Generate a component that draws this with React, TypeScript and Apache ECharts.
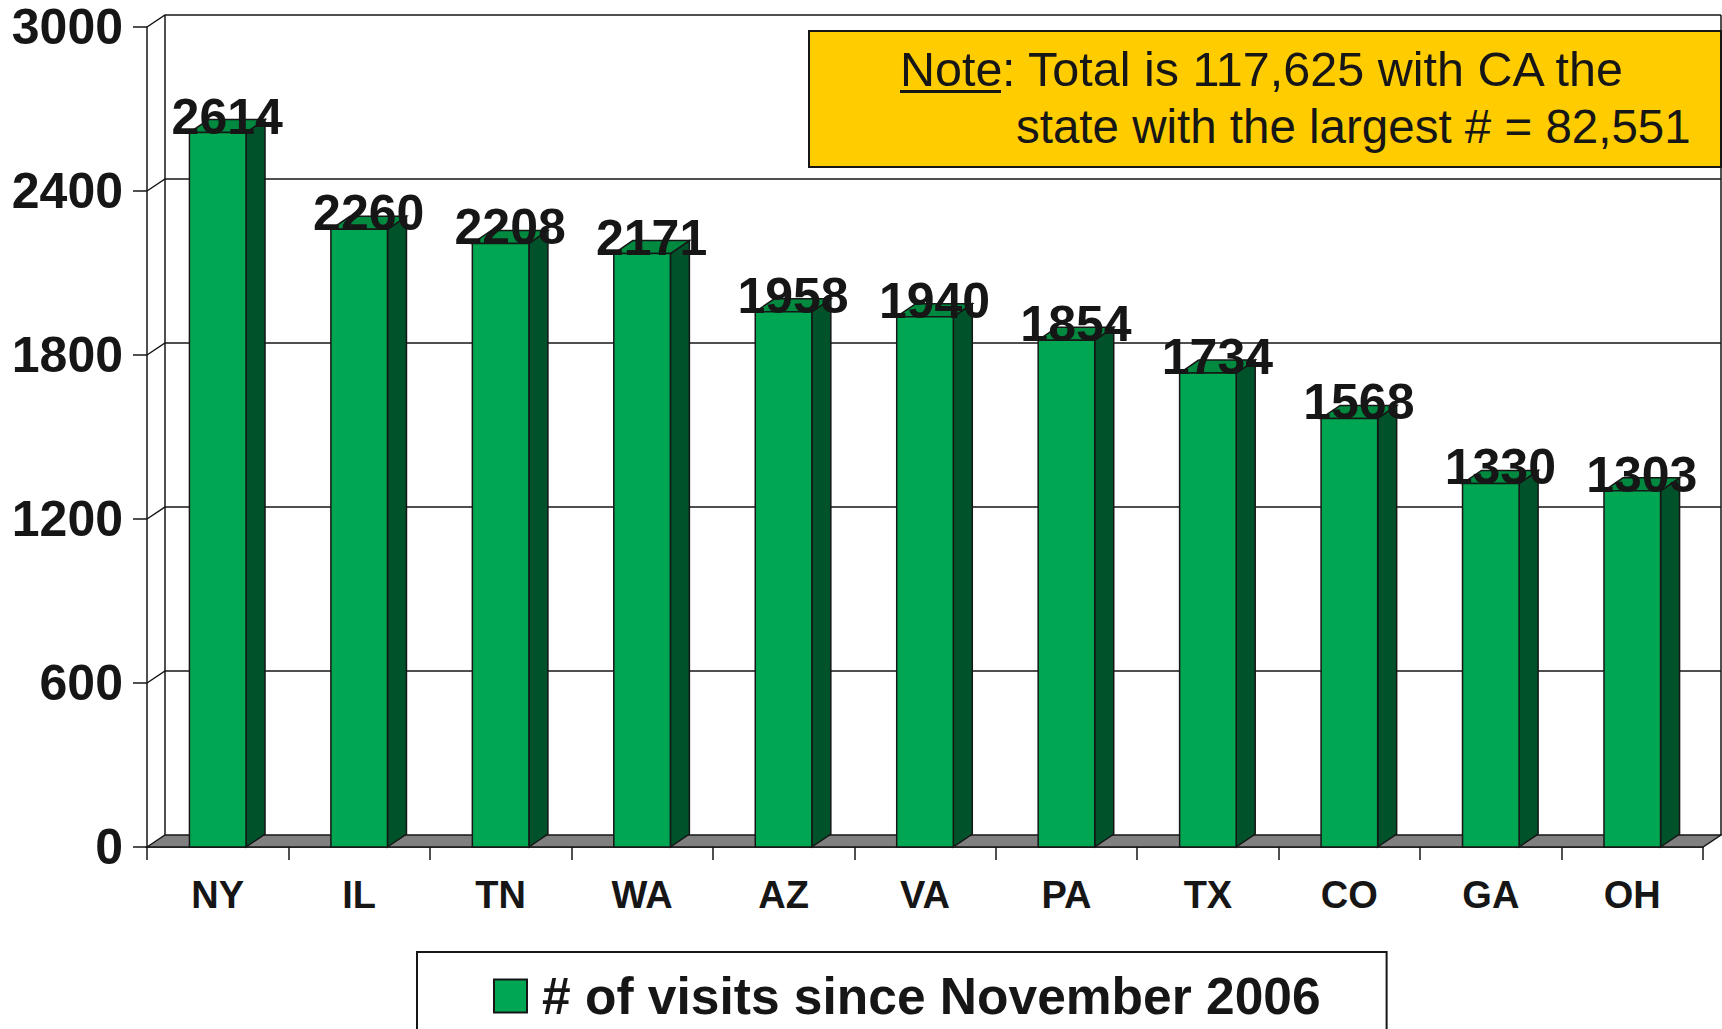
import React, { useEffect, useRef } from "react";
import * as echarts from "echarts";

const categories = ["NY", "IL", "TN", "WA", "AZ", "VA", "PA", "TX", "CO", "GA", "OH"];
const visits = [2614, 2260, 2208, 2171, 1958, 1940, 1854, 1734, 1568, 1330, 1303];
const yTicks = [0, 600, 1200, 1800, 2400, 3000];
const Y_MIN = 0;
const Y_MAX = 3000;
const Y_INTERVAL = 600;
const seriesName = "# of visits since November 2006";
const noteLine1Rest = ": Total is 117,625 with CA the";
const noteLine1Key = "Note";
const noteLine2 = "state with the largest # = 82,551";

const FONT = '"Liberation Sans", Arial, Helvetica, sans-serif';
const INK = "#161616";
const FRONT = "#00A651";
const SIDE = "#00522A";
const TOP = "#00893F";
const FLOOR = "#808080";
const WALL_DX = 18;
const WALL_DY = -12;
const BAR_DX = 19;
const BAR_DY = -13;

export default function App() {
  const ref = useRef<HTMLDivElement>(null);
  useEffect(() => {
    if (!ref.current) return;
    const chart = echarts.init(ref.current, undefined, { renderer: "svg" });
    const n = categories.length;

    const frameRender = (params: any, api: any) => {
      const v = api.value(1);
      const band = api.size([1, 0])[0];
      const pL = api.coord([0, v]);
      const pR = api.coord([n - 1, v]);
      const left = pL[0] - band / 2;
      const right = pR[0] + band / 2;
      const y = pL[1];
      const children: any[] = [];
      if (v === Y_MIN) {
        const yTop = api.coord([0, Y_MAX])[1];
        children.push({
          type: "polygon",
          shape: { points: [[left, y], [left + WALL_DX, y + WALL_DY], [right + WALL_DX, y + WALL_DY], [right, y]] },
          style: { fill: FLOOR, stroke: INK, lineWidth: 1.5 },
        });
        children.push({
          type: "line",
          shape: { x1: left + WALL_DX, y1: y + WALL_DY, x2: left + WALL_DX, y2: yTop + WALL_DY },
          style: { stroke: INK, lineWidth: 1.5 },
        });
        children.push({
          type: "line",
          shape: { x1: right + WALL_DX, y1: y + WALL_DY, x2: right + WALL_DX, y2: yTop + WALL_DY },
          style: { stroke: INK, lineWidth: 1.5 },
        });
      } else {
        children.push({
          type: "polyline",
          shape: { points: [[left, y], [left + WALL_DX, y + WALL_DY], [right + WALL_DX, y + WALL_DY]] },
          style: { stroke: INK, lineWidth: 1.5, fill: null },
        });
      }
      return { type: "group", children };
    };

    const barRender = (params: any, api: any) => {
      const idx = api.value(0);
      const v = api.value(1);
      const top = api.coord([idx, v]);
      const base = api.coord([idx, 0]);
      const band = api.size([1, 0])[0];
      const w = band * 0.4;
      const x0 = top[0] - w / 2;
      const x1 = top[0] + w / 2;
      const yT = top[1];
      const yB = base[1];
      const edge = { stroke: INK, lineWidth: 1.5 };
      return {
        type: "group",
        children: [
          {
            type: "polygon",
            shape: { points: [[x1, yB], [x1 + BAR_DX, yB + BAR_DY], [x1 + BAR_DX, yT + BAR_DY], [x1, yT]] },
            style: { fill: SIDE, ...edge },
          },
          {
            type: "polygon",
            shape: { points: [[x0, yT], [x0 + BAR_DX, yT + BAR_DY], [x1 + BAR_DX, yT + BAR_DY], [x1, yT]] },
            style: { fill: TOP, ...edge },
          },
          {
            type: "rect",
            shape: { x: x0, y: yT, width: w, height: yB - yT },
            style: { fill: FRONT, ...edge },
          },
          {
            type: "text",
            x: (x0 + x1 + BAR_DX) / 2,
            y: yT - 16,
            style: {
              text: String(v),
              fill: INK,
              font: `bold 50px ${FONT}`,
              align: "center",
              verticalAlign: "middle",
            },
          },
        ],
      };
    };

    chart.setOption({
      animation: false,
      backgroundColor: "#ffffff",
      grid: { left: 147, top: 27, width: 1556, height: 820, containLabel: false },
      legend: {
        data: [seriesName],
        left: 417,
        top: 952,
        padding: [18, 66, 22, 76],
        borderColor: INK,
        borderWidth: 2,
        itemWidth: 33,
        itemHeight: 33,
        icon: "rect",
        selectedMode: false,
        textStyle: {
          fontFamily: FONT,
          fontWeight: "bold",
          fontSize: 51.5,
          color: INK,
          padding: [0, 0, 0, 10],
        },
      },
      xAxis: {
        type: "category",
        data: categories,
        axisLine: { show: true, lineStyle: { color: INK, width: 1.5 } },
        axisTick: { show: true, length: 13, lineStyle: { color: INK, width: 1.5 } },
        axisLabel: {
          margin: 29,
          fontFamily: FONT,
          fontWeight: "bold",
          fontSize: 38,
          color: INK,
        },
        splitLine: { show: false },
      },
      yAxis: {
        type: "value",
        min: Y_MIN,
        max: Y_MAX,
        interval: Y_INTERVAL,
        axisLine: { show: true, lineStyle: { color: INK, width: 1.5 } },
        axisTick: { show: true, length: 14, lineStyle: { color: INK, width: 1.5 } },
        axisLabel: {
          margin: 24,
          fontFamily: FONT,
          fontWeight: "bold",
          fontSize: 50,
          color: INK,
          formatter: (v: number) => String(v),
        },
        splitLine: { show: false },
      },
      series: [
        {
          name: "frame",
          type: "custom",
          z: 1,
          silent: true,
          renderItem: frameRender,
          data: yTicks.map((v) => [0, v]),
        },
        {
          name: seriesName,
          type: "custom",
          z: 5,
          renderItem: barRender,
          itemStyle: { color: FRONT, borderColor: INK, borderWidth: 1.5 },
          data: visits.map((v, i) => [i, v]),
        },
      ],
      graphic: [
        {
          type: "rect",
          left: 808,
          top: 30,
          z: 20,
          shape: { width: 912, height: 136 },
          style: { fill: "#FFCC00", stroke: INK, lineWidth: 2 },
        },
        {
          type: "text",
          left: 900,
          top: 44,
          z: 21,
          style: {
            text: noteLine1Key,
            font: `48.5px ${FONT}`,
            fill: INK,
          },
        },
        {
          type: "rect",
          left: 900,
          top: 90,
          z: 21,
          shape: { width: 101, height: 3 },
          style: { fill: INK },
        },
        {
          type: "text",
          left: 1002,
          top: 44,
          z: 21,
          style: {
            text: noteLine1Rest,
            font: `48.5px ${FONT}`,
            fill: INK,
          },
        },
        {
          type: "text",
          left: 1016,
          top: 102,
          z: 21,
          style: {
            text: noteLine2,
            font: `47.5px ${FONT}`,
            fill: INK,
          },
        },
      ],
    });
    return () => chart.dispose();
  }, []);
  return (
    <div
      ref={ref}
      style={{ position: "fixed", left: 0, top: 0, width: 1722, height: 1029, background: "#fff" }}
    />
  );
}
